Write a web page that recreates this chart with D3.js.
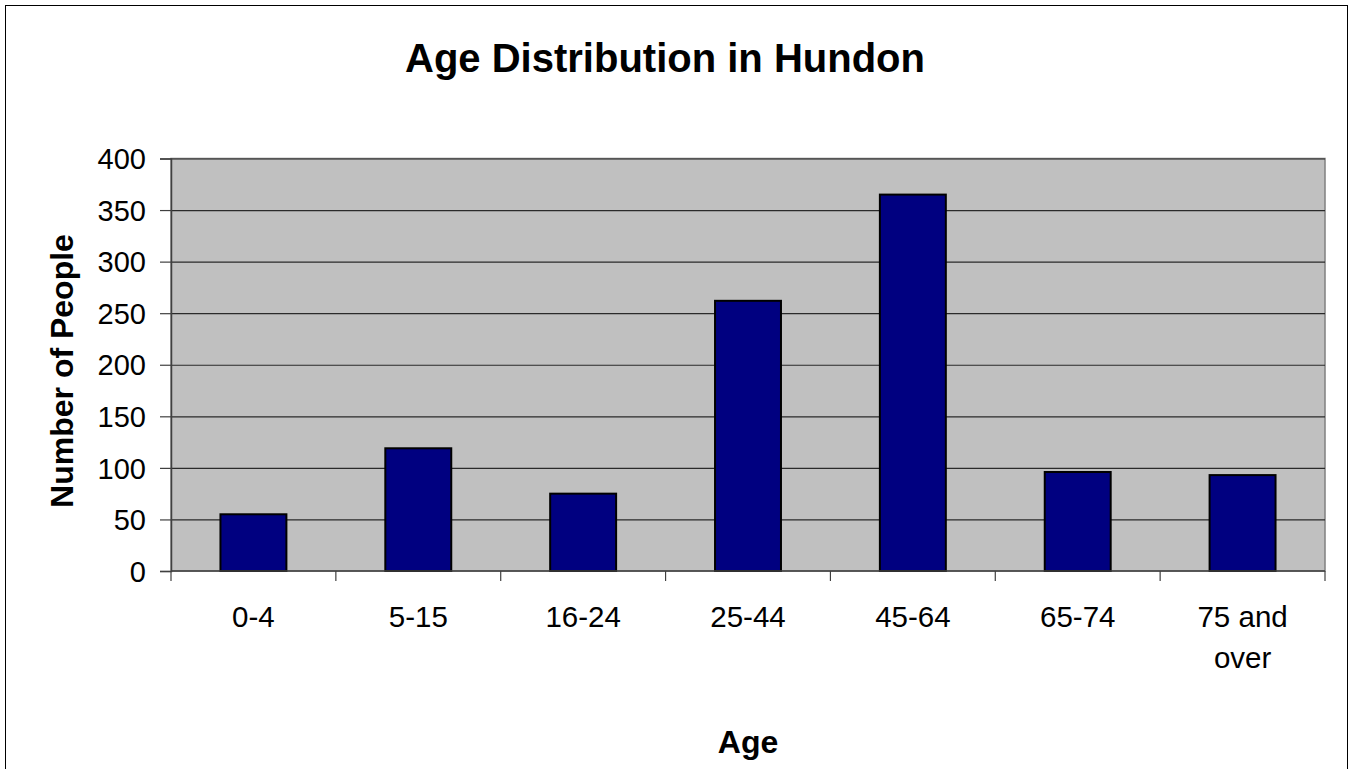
<!DOCTYPE html>
<html>
<head>
<meta charset="utf-8">
<script src="https://cdn.jsdelivr.net/npm/d3@7"></script>
<style>
  html, body { margin: 0; padding: 0; background: #fff; }
  svg text { font-family: "Liberation Sans", Arial, sans-serif; fill: #000; }
</style>
</head>
<body>
<script>
// chart data
var categories = ['0-4', '5-15', '16-24', '25-44', '45-64', '65-74', '75 and\nover'];
var people = [55, 119, 75, 262, 365, 96, 93];
var yTicks = [0, 50, 100, 150, 200, 250, 300, 350, 400];

var W = 1356, H = 769;
var margin = {top: 158.5, right: 31, bottom: 198, left: 171};
var width = W - margin.left - margin.right;
var height = H - margin.top - margin.bottom;

var svg = d3.select('body').append('svg')
    .attr('width', W)
    .attr('height', H);

// outer chart frame
svg.append('rect')
    .attr('x', 5.5).attr('y', 5.5)
    .attr('width', 1342).attr('height', 820)
    .attr('fill', '#fff')
    .attr('stroke', '#000')
    .attr('stroke-width', 1);

svg.append('text')
    .attr('x', 665).attr('y', 72)
    .attr('text-anchor', 'middle')
    .style('font-size', '40px')
    .style('font-weight', 'bold')
    .text('Age Distribution in Hundon');

var g = svg.append('g')
    .attr('transform', 'translate(' + margin.left + ',' + margin.top + ')');

var x = d3.scaleBand().domain(categories).range([0, width]).padding(0);
var xBar = d3.scaleBand().domain(categories).range([0, width])
    .paddingInner(0.6).paddingOuter(0.3);
var y = d3.scaleLinear().domain([0, 400]).range([height, 0]);

// plot area
g.append('rect')
    .attr('width', width).attr('height', height)
    .attr('fill', '#c0c0c0')
    .attr('stroke', '#808080')
    .attr('stroke-width', 1.5);

// gridlines
g.append('g')
    .attr('class', 'grid')
    .call(d3.axisLeft(y).tickValues(yTicks.slice(1)).tickSize(-width).tickFormat(''))
    .call(function (s) {
      s.select('.domain').remove();
      s.selectAll('line').attr('stroke', '#2a2a2a').attr('stroke-width', 1.2);
    });

// bars
g.append('g').selectAll('rect')
    .data(people)
    .enter().append('rect')
    .attr('x', function (d, i) { return xBar(categories[i]); })
    .attr('y', function (d) { return y(d); })
    .attr('width', xBar.bandwidth())
    .attr('height', function (d) { return height - y(d); })
    .attr('fill', '#000080')
    .attr('stroke', '#000')
    .attr('stroke-width', 2);

// y axis
g.append('g')
    .call(d3.axisLeft(y).tickValues(yTicks).tickSize(11).tickPadding(14))
    .call(function (s) {
      s.select('.domain').attr('stroke', '#404040').attr('stroke-width', 1.5);
      s.selectAll('line').attr('stroke', '#404040').attr('stroke-width', 1.2);
      s.selectAll('text').style('font-size', '29px').attr('dy', '0.35em');
    });

// x axis: ticks at category boundaries
var xTickPos = categories.map(function (c) { return x(c); }).concat([width]);
var xa = g.append('g').attr('transform', 'translate(0,' + height + ')');
xa.append('line')
    .attr('x1', 0).attr('x2', width)
    .attr('stroke', '#404040').attr('stroke-width', 1.5);
xa.selectAll('line.tick')
    .data(xTickPos)
    .enter().append('line')
    .attr('class', 'tick')
    .attr('x1', function (d) { return d; }).attr('x2', function (d) { return d; })
    .attr('y1', 0).attr('y2', 10)
    .attr('stroke', '#404040').attr('stroke-width', 1.2);

var lbl = xa.selectAll('text.cat')
    .data(categories)
    .enter().append('text')
    .attr('class', 'cat')
    .attr('text-anchor', 'middle')
    .attr('transform', function (d) { return 'translate(' + (x(d) + x.bandwidth() / 2) + ',56)'; })
    .style('font-size', '29.5px');
lbl.selectAll('tspan')
    .data(function (d) { return d.split('\n'); })
    .enter().append('tspan')
    .attr('x', 0)
    .attr('dy', function (d, i) { return i === 0 ? 0 : 41; })
    .text(function (d) { return d; });

// axis titles
svg.append('text')
    .attr('x', margin.left + width / 2).attr('y', 753)
    .attr('text-anchor', 'middle')
    .style('font-size', '32px')
    .style('font-weight', 'bold')
    .text('Age');

svg.append('text')
    .attr('transform', 'translate(73,371) rotate(-90)')
    .attr('text-anchor', 'middle')
    .style('font-size', '32px')
    .style('font-weight', 'bold')
    .text('Number of People');
</script>
</body>
</html>
